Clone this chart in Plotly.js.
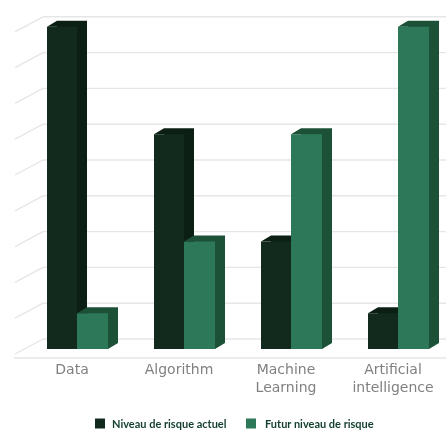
<!DOCTYPE html>
<html>
<head>
<meta charset="utf-8">
<script src="https://cdn.plot.ly/plotly-3.0.1.min.js"></script>
<style>
html,body{margin:0;padding:0;background:#fff;}
#chart{width:446px;height:430px;filter:blur(0.5px);}
</style>
</head>
<body>
<div id="chart"></div>
<script>
// Data
const categories = ["Data", "Algorithm", "Machine<br>Learning", "Artificial<br>intelligence"];
const seriesNames = ["Niveau de risque actuel", "Futur niveau de risque"];
const currentRisk = [9, 6, 3, 1];
const futureRisk = [1, 3, 6, 9];
const gridLevels = [0, 1, 2, 3, 4, 5, 6, 7, 8, 9];

// Scale: pixels per unit of each axis
const W = 446, H = 430, plotBottom = 359;
const unitX = 107, unitY = 35.8;
const xMin = -72 / unitX, xMax = (W - 72) / unitX;
const yMax = 349 / unitY, yMin = -(plotBottom - 349) / unitY;
const xs = categories.map((_, i) => i);

// Pseudo-3D depth, in axis units
const barDx = 10 / unitX, barDy = 6 / unitY;
const wallDy = 10 / unitY, wallX = -29 / unitX, wallFrontX = -57 / unitX, wallFrontDrop = 15 / unitY;
const floorY = -9 / unitY, floorX = -58 / unitX;

const frontW = 30 / unitX, greenW = 31 / unitX;
const darkStart = -25 / unitX, greenStart = 5 / unitX;

const darkFront = "#122a1d", darkBack = "#0b1f14";
const greenFront = "#2d7858", greenBack = "#1c5138";
const gridColor = "#e6e6e6";

function backBar(vals, start, w, color) {
  return {type: "bar", x: xs, y: vals, base: vals.map(() => barDy),
    offset: start + barDx, width: w, marker: {color: color, line: {width: 0}},
    showlegend: false, hoverinfo: "skip"};
}
function frontBar(vals, start, w, color, name) {
  return {type: "bar", x: xs, y: vals, base: 0, offset: start, width: w,
    marker: {color: color, line: {width: 0}}, name: name, showlegend: false};
}
function chamfers(vals, start, w, color, withBottom) {
  const px = [], py = [];
  vals.forEach((v, i) => {
    const l = i + start, r = l + w;
    px.push(l, l + barDx, l + barDx, null);
    py.push(v, v + barDy, v, null);
    if (withBottom) {
      px.push(r, r + barDx, r, null);
      py.push(0, barDy, barDy, null);
    }
  });
  return {type: "scatter", mode: "none", x: px, y: py, fill: "toself",
    fillcolor: color, showlegend: false, hoverinfo: "skip"};
}

// Back wall grid, side-wall diagonals and floor edge, beneath the bars
function gridLine(x0, y0, x1, y1) {
  return {type: "line", layer: "below", xref: "x", yref: "y", x0, y0, x1, y1,
    line: {color: gridColor, width: 1.4}};
}
const shapes = [];
gridLevels.forEach(l => {
  const y = l + wallDy;
  shapes.push(gridLine(wallFrontX, y - wallFrontDrop, wallX, y));
  shapes.push(gridLine(wallX, y, xMax, y));
});
shapes.push(gridLine(floorX, floorY, xMax, floorY));

// Legend swatches and labels
const legendY = 423.5;
const legendItems = [
  {swatch: 95, text: 111, color: darkFront, label: seriesNames[0]},
  {swatch: 246, text: 264, color: greenFront, label: seriesNames[1]}
];
const annotations = [];
legendItems.forEach(it => {
  shapes.push({type: "rect", xref: "paper", yref: "paper",
    x0: it.swatch / W, x1: (it.swatch + 10) / W,
    y0: (plotBottom - legendY - 5) / plotBottom, y1: (plotBottom - legendY + 5) / plotBottom,
    fillcolor: it.color, line: {width: 0}});
  annotations.push({xref: "paper", yref: "paper", showarrow: false,
    x: it.text / W, xanchor: "left", xshift: -1,
    y: (plotBottom - legendY) / plotBottom, yanchor: "middle",
    text: "<b>" + it.label + "</b>", align: "left",
    font: {family: "Lato, sans-serif", size: 11, color: "#123f2c"}});
});

const data = [
  backBar(currentRisk, darkStart, frontW, darkBack),
  frontBar(currentRisk, darkStart, frontW, darkFront, seriesNames[0]),
  backBar(futureRisk, greenStart, greenW, greenBack),
  frontBar(futureRisk, greenStart, greenW, greenFront, seriesNames[1]),
  chamfers(currentRisk, darkStart, frontW, darkBack, false),
  chamfers(futureRisk, greenStart, greenW, greenBack, true)
];

const layout = {
  width: W, height: H,
  margin: {l: 0, r: 0, t: 0, b: H - plotBottom, pad: 0, autoexpand: false},
  paper_bgcolor: "#fff", plot_bgcolor: "rgba(0,0,0,0)",
  barmode: "overlay",
  showlegend: false,
  shapes, annotations,
  xaxis: {range: [xMin, xMax], tickmode: "array", tickvals: xs, ticktext: categories,
    showgrid: false, zeroline: false, showline: false, ticks: "", automargin: false,
    tickangle: 0, tickfont: {family: "DejaVu Sans, sans-serif", size: 14, color: "#808080"}},
  yaxis: {range: [yMin, yMax], showgrid: false, zeroline: false, showline: false,
    showticklabels: false, ticks: "", automargin: false}
};

Plotly.newPlot("chart", data, layout, {displayModeBar: false, staticPlot: true});
</script>
</body>
</html>
